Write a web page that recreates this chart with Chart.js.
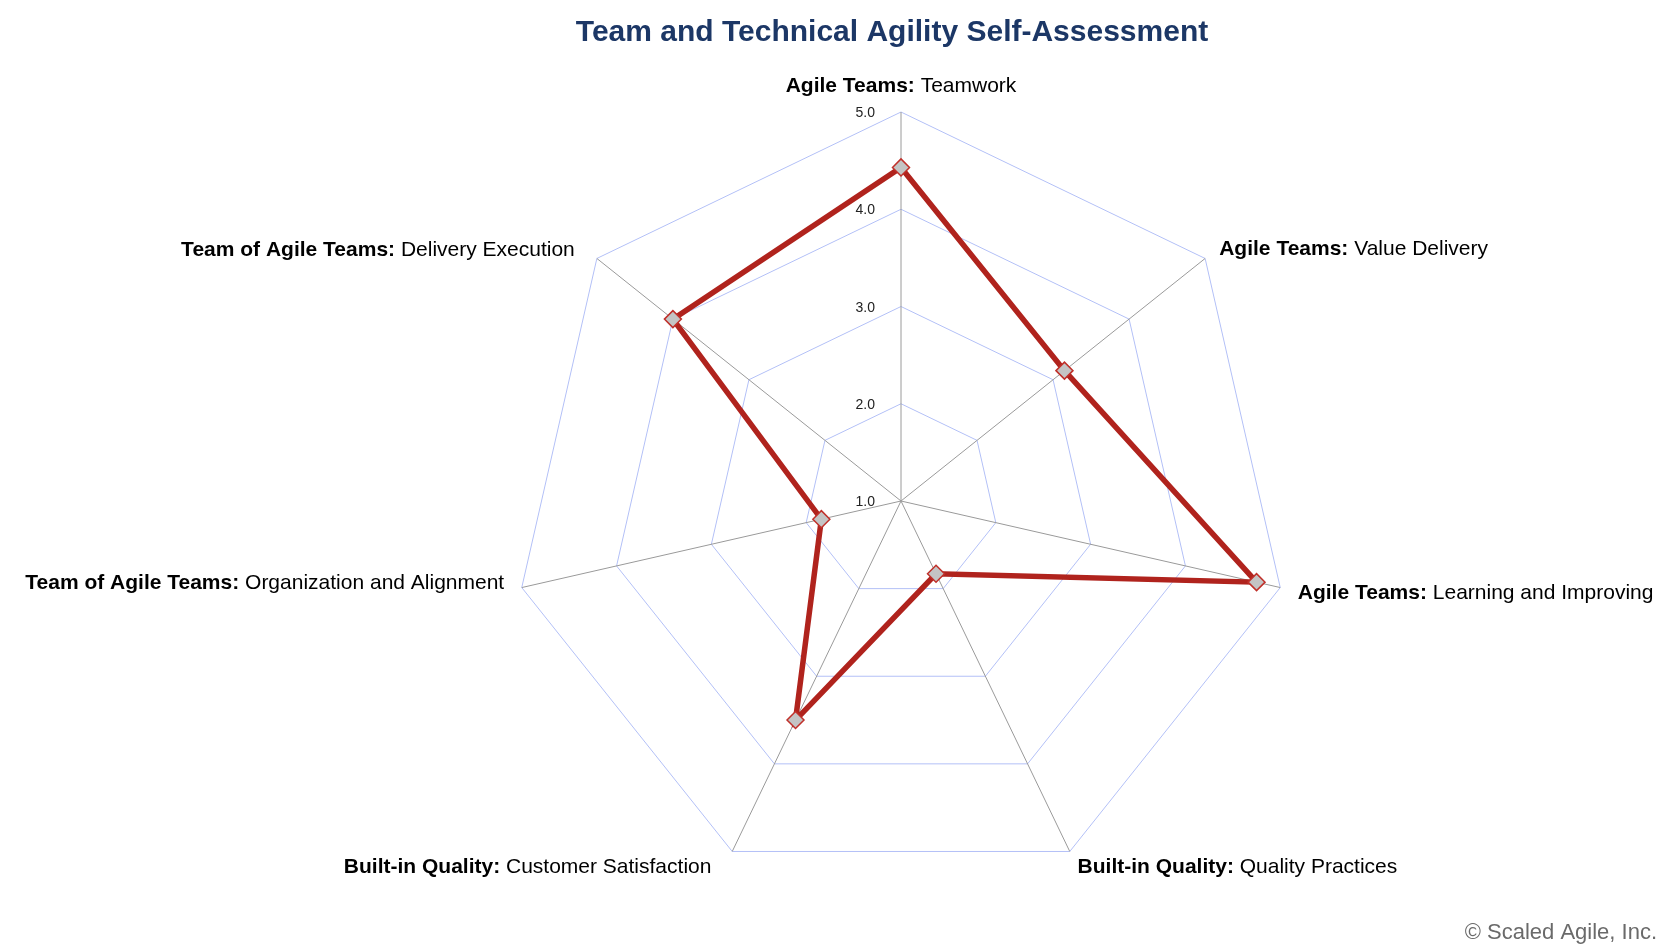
<!DOCTYPE html>
<html>
<head>
<meta charset="utf-8">
<title>Team and Technical Agility Self-Assessment</title>
<script src="https://cdn.jsdelivr.net/npm/chart.js@4.4.1/dist/chart.umd.min.js"></script>
<style>
    html, body { margin: 0; padding: 0; background: #ffffff; }
    #radarAgilidade { display: block; }
</style>
</head>
<body>
<canvas id="radarAgilidade" width="1680" height="950"></canvas>
<script>
// Values
const groups = ['Agile Teams', 'Agile Teams', 'Agile Teams', 'Built-in Quality', 'Built-in Quality', 'Team of Agile Teams', 'Team of Agile Teams'];
const categories = ['Teamwork', 'Value Delivery', 'Learning and Improving', 'Quality Practices', 'Customer Satisfaction', 'Organization and Alignment', 'Delivery Execution'];
const scores = [4.43, 3.15, 4.75, 1.83, 3.5, 1.84, 4.0];
const tickLabels = ['1.0', '2.0', '3.0', '4.0', '5.0'];

const fontFamily = "'Liberation Sans', Arial, Helvetica, sans-serif";

// small per-label nudges (layout only) so labels sit like the original
const labelNudges = [[0, -2], [0, 0], [0, 0], [0, -2], [-13, -2], [0, -10], [-8, 1]];

// Plugin that writes the title, the two-weight axis labels, ring values and footer
const textPlugin = {
    id: 'textPlugin',
    afterDraw(chart) {
        const ctx = chart.ctx;
        const scale = chart.scales.r;
        ctx.save();
        ctx.textBaseline = 'alphabetic';

        // Title
        ctx.font = `bold 30px ${fontFamily}`;
        ctx.fillStyle = '#1c3766';
        ctx.textAlign = 'center';
        ctx.fillText('Team and Technical Agility Self-Assessment', 892, 41);

        // Axis labels: bold group + regular name
        categories.forEach((name, i) => {
            const pos = scale.getPointPosition(i, scale.drawingArea + 18);
            const boldText = groups[i] + ':';
            const normalText = ' ' + name;
            ctx.font = `bold 21px ${fontFamily}`;
            const wBold = ctx.measureText(boldText).width;
            ctx.font = `21px ${fontFamily}`;
            const wNormal = ctx.measureText(normalText).width;
            const total = wBold + wNormal;

            let x;
            let y = pos.y + 7.5;
            if (pos.x > scale.xCenter + 1) {
                x = pos.x;
            } else if (pos.x < scale.xCenter - 1) {
                x = pos.x - total;
            } else {
                x = pos.x - total / 2;
                y = pos.y;
            }
            x += labelNudges[i][0];
            y += labelNudges[i][1];
            ctx.textAlign = 'left';
            ctx.fillStyle = '#000000';
            ctx.font = `bold 21px ${fontFamily}`;
            ctx.fillText(boldText, x, y);
            ctx.font = `21px ${fontFamily}`;
            ctx.fillText(normalText, x + wBold, y);
        });

        // Ring values, left of the vertical axis
        ctx.font = `14px ${fontFamily}`;
        ctx.fillStyle = '#222222';
        ctx.textAlign = 'right';
        tickLabels.forEach(label => {
            const p = scale.getPointPositionForValue(0, parseFloat(label));
            ctx.fillText(label, scale.xCenter - 26, p.y + 5);
        });

        // Footer
        ctx.font = `22px ${fontFamily}`;
        ctx.fillStyle = '#6a6a6a';
        ctx.textAlign = 'right';
        ctx.fillText('\u00A9 Scaled Agile, Inc.', 1657, 939);

        ctx.restore();
    }
};

const ctxRadar = document.getElementById('radarAgilidade').getContext('2d');

new Chart(ctxRadar, {
    type: 'radar',
    data: {
        labels: categories,
        datasets: [{
            label: 'Self-Assessment',
            data: scores,
            fill: false,
            borderColor: '#b0231d',
            borderWidth: 5.5,
            pointStyle: 'rectRot',
            pointRadius: 8.5,
            pointBorderWidth: 1.5,
            pointBackgroundColor: '#c4c4c4',
            pointBorderColor: '#c0302a',
            tension: 0
        }]
    },
    options: {
        responsive: false,
        animation: false,
        layout: {
            padding: { top: 112, bottom: 60, left: 402, right: 279 }
        },
        plugins: {
            legend: { display: false },
            title: { display: false },
            tooltip: { enabled: false }
        },
        scales: {
            r: {
                min: 1,
                max: 5,
                beginAtZero: false,
                ticks: {
                    stepSize: 1,
                    display: false
                },
                pointLabels: {
                    display: false
                },
                grid: {
                    color: '#b3c0f7',
                    lineWidth: 1
                },
                angleLines: {
                    color: '#9a9a9a',
                    lineWidth: 1
                }
            }
        }
    },
    plugins: [textPlugin]
});
</script>
</body>
</html>
